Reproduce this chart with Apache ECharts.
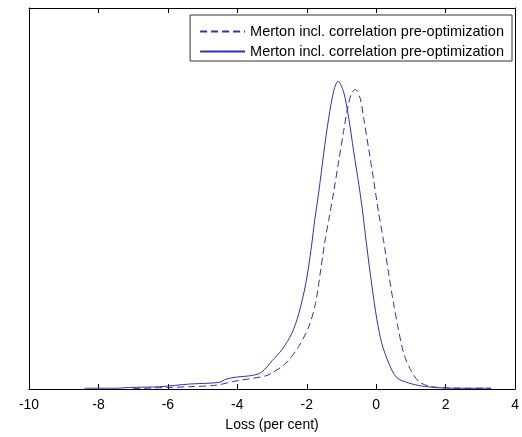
<!DOCTYPE html>
<html>
<head>
<meta charset="utf-8">
<script src="https://cdn.jsdelivr.net/npm/echarts@6/dist/echarts.min.js"></script>
<style>
  html, body { margin: 0; padding: 0; background: #fff; }
  #main { width: 522px; height: 437px; }
</style>
</head>
<body>
<div id="main"></div>
<script>
// x axis ticks
const xTicks = [-10, -8, -6, -4, -2, 0, 2, 4];

// solid curve (loss in per cent, density)
const solidLoss = [-8.4, -7.5, -7.1, -6.24, -5.38, -4.52, -4.32, -4.03, -3.57, -3.3, -3.0, -2.71, -2.43, -2.23, -2.03, -1.88, -1.77, -1.65, -1.51, -1.37, -1.22, -1.1, -0.94, -0.79, -0.65, -0.5, -0.4, -0.28, -0.12, 0.02, 0.16, 0.36, 0.59, 0.93, 1.3, 1.79, 2.36, 3.31];
const solidDensity = [0.001, 0.001, 0.002, 0.003, 0.0065, 0.0087, 0.013, 0.0156, 0.0178, 0.022, 0.037, 0.052, 0.073, 0.099, 0.138, 0.182, 0.222, 0.26, 0.31, 0.355, 0.392, 0.404, 0.39, 0.355, 0.312, 0.268, 0.236, 0.19, 0.134, 0.091, 0.06, 0.034, 0.015, 0.008, 0.004, 0.0017, 0.001, 0.001];

// dashed curve
const dashedLoss = [-7.0, -6.0, -5.38, -4.6, -4.1, -3.2, -3.0, -2.6, -2.23, -1.94, -1.75, -1.6, -1.46, -1.37, -1.22, -1.08, -0.94, -0.81, -0.7, -0.6, -0.46, -0.36, -0.22, -0.07, 0.07, 0.21, 0.36, 0.5, 0.64, 0.79, 0.98, 1.22, 1.5, 1.79, 2.65, 3.31];
const dashedDensity = [0.0005, 0.002, 0.003, 0.005, 0.01, 0.017, 0.021, 0.034, 0.056, 0.082, 0.112, 0.156, 0.199, 0.221, 0.26, 0.299, 0.338, 0.372, 0.389, 0.393, 0.381, 0.355, 0.316, 0.273, 0.231, 0.195, 0.151, 0.112, 0.078, 0.047, 0.026, 0.01, 0.004, 0.002, 0.001, 0.001];

// both entries carry the same label in the original; trailing space keeps them apart
const legendNames = ['Merton incl. correlation pre-optimization', 'Merton incl. correlation pre-optimization '];
const xLabel = 'Loss (per cent)';

const lineColor = '#3030b8';
const zip = (xs, ys) => xs.map((x, i) => [x, ys[i]]);

const frameAxis = {
  axisLine: { onZero: false, lineStyle: { color: '#000' } },
  splitLine: { show: false }
};

const chart = echarts.init(document.getElementById('main'));
chart.setOption({
  animation: false,
  textStyle: { fontFamily: 'Liberation Sans, Arial, sans-serif' },
  grid: { left: 29, right: 5, top: 8, bottom: 44 },
  legend: {
    orient: 'vertical',
    right: 10,
    top: 15,
    padding: [9, 4, 2, 9],
    itemGap: 5,
    itemWidth: 45,
    itemHeight: 14,
    borderColor: '#333',
    borderWidth: 1,
    backgroundColor: '#fff',
    itemStyle: { opacity: 0 },
    textStyle: { color: '#000', fontSize: 14.5 },
    data: legendNames
  },
  xAxis: [{
    type: 'value',
    min: -10, max: 4, interval: 2,
    name: xLabel,
    nameLocation: 'middle',
    nameGap: 29,
    nameTextStyle: { color: '#000', fontSize: 14 },
    ...frameAxis,
    axisTick: { inside: true, length: 5, lineStyle: { color: '#000' } },
    axisLabel: { color: '#000', fontSize: 14, margin: 9, formatter: v => xTicks.includes(v) ? String(v) : '' }
  }, {
    type: 'value', position: 'top',
    min: -10, max: 4, interval: 2,
    ...frameAxis,
    axisTick: { inside: true, length: 5, lineStyle: { color: '#000' } },
    axisLabel: { show: false }
  }],
  yAxis: [{
    type: 'value', min: 0, max: 0.5,
    ...frameAxis,
    axisLine: { show: true, onZero: false, lineStyle: { color: '#000' } },
    axisTick: { show: false },
    axisLabel: { show: false }
  }, {
    type: 'value', position: 'right', min: 0, max: 0.5,
    ...frameAxis,
    axisLine: { show: true, onZero: false, lineStyle: { color: '#000' } },
    axisTick: { show: false },
    axisLabel: { show: false }
  }],
  series: [{
    name: legendNames[0],
    type: 'line',
    data: zip(dashedLoss, dashedDensity),
    showSymbol: false,
    symbol: 'none',
    smooth: 0.3,
    lineStyle: { color: lineColor, width: 1, type: [7, 4] },
    itemStyle: { color: lineColor }
  }, {
    name: legendNames[1],
    type: 'line',
    data: zip(solidLoss, solidDensity),
    showSymbol: false,
    symbol: 'none',
    smooth: 0.3,
    lineStyle: { color: lineColor, width: 1 },
    itemStyle: { color: lineColor }
  }]
});
</script>
</body>
</html>
